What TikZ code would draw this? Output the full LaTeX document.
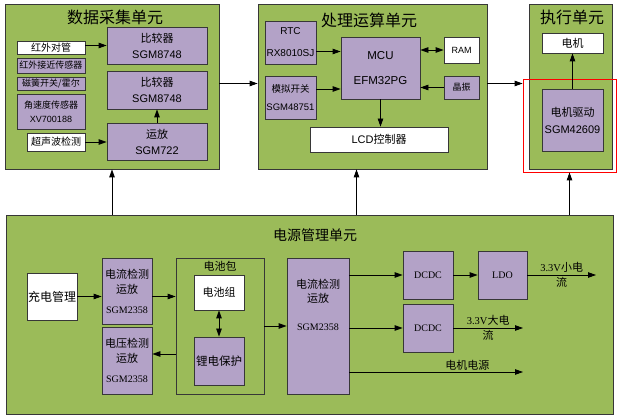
\documentclass[tikz,border=0pt]{standalone}
\usepackage{fontspec}
\setmainfont{Liberation Sans}
\newfontfamily\cjk{Noto Sans CJK SC}
\newfontfamily\song{Liberation Serif}
\usepackage{xcolor}
\usetikzlibrary{arrows.meta,positioning}

\definecolor{grpgreen}{RGB}{155,187,89}
\definecolor{boxpurple}{RGB}{179,162,199}
\definecolor{edgegray}{RGB}{55,55,55}

\begin{document}
\begin{tikzpicture}[
    x=1pt, y=-1pt,
    grp/.style={draw=edgegray, line width=0.8pt, fill=grpgreen, inner sep=0pt},
    pbox/.style={draw=edgegray, line width=0.8pt, fill=boxpurple, align=center, inner sep=0pt},
    wbox/.style={draw=edgegray, line width=0.8pt, fill=white, align=center, inner sep=0pt},
    ttl/.style={font=\cjk\fontsize{16}{18}\selectfont, inner sep=0pt},
    txt/.style={align=center, inner sep=1pt},
    arrow/.style={-{Triangle[length=8pt, width=5.5pt]}, line width=0.8pt},
    dblarrow/.style={{Triangle[length=8pt, width=5.5pt]}-{Triangle[length=8pt, width=5.5pt]}, line width=0.8pt},
]
\useasboundingbox[fill=white] (0,0) rectangle (619,419);

% ---------- Data acquisition (top left) ----------
\node[grp, minimum width=214pt, minimum height=165pt] (daq) at (112,86.5) {};
\node[ttl] (daqttl) at (115,17) {数据采集单元};
\node[wbox, minimum width=68pt, minimum height=13pt, font=\cjk\fontsize{10}{12}\selectfont] (ir) at (51,47.5) {红外对管};
\node[pbox, minimum width=68pt, minimum height=15pt, font=\cjk\fontsize{9}{11}\selectfont] (prox) at (51,65.5) {红外接近传感器};
\node[pbox, minimum width=68pt, minimum height=13pt, font=\cjk\fontsize{9}{11}\selectfont] (reed) at (51,83.5) {磁簧开关/霍尔};
\node[pbox, minimum width=68pt, minimum height=35pt, font=\fontsize{9}{14}\selectfont] (gyro) at (51,111.5) {{\cjk 角速度传感器}\\XV700188};
\node[wbox, minimum width=58pt, minimum height=18pt, font=\cjk\fontsize{10}{12}\selectfont] (sonic) at (56,142) {超声波检测};
\node[pbox, minimum width=100pt, minimum height=37pt, font=\fontsize{11}{16}\selectfont] (cmp1) at (157,45.5) {{\cjk 比较器}\\SGM8748};
\node[pbox, minimum width=100pt, minimum height=38pt, font=\fontsize{11}{16}\selectfont] (cmp2) at (157,90) {{\cjk 比较器}\\SGM8748};
\node[pbox, minimum width=100pt, minimum height=37pt, font=\fontsize{11}{16}\selectfont] (amp) at (157,141.5) {{\cjk 运放}\\SGM722};

% ---------- Processing (top middle) ----------
\node[grp, minimum width=229pt, minimum height=165pt] (proc) at (372.5,86.5) {};
\node[ttl] (procttl) at (369,20) {处理运算单元};
\node[pbox, minimum width=51pt, minimum height=43pt, font=\fontsize{10}{22}\selectfont] (rtc) at (290.5,42.5) {RTC\\RX8010SJ};
\node[pbox, minimum width=51pt, minimum height=43pt, font=\fontsize{9.5}{18}\selectfont] (asw) at (290.5,97.5) {{\cjk 模拟开关}\\SGM48751};
\node[pbox, minimum width=79pt, minimum height=62pt, font=\fontsize{11.5}{25}\selectfont] (mcu) at (380.5,68) {MCU\\EFM32PG};
\node[wbox, minimum width=35pt, minimum height=26pt, font=\fontsize{9}{11}\selectfont] (ram) at (461.5,50) {RAM};
\node[pbox, minimum width=35pt, minimum height=23pt, font=\cjk\fontsize{9}{11}\selectfont] (xtal) at (461.5,87.5) {晶振};
\node[wbox, minimum width=138pt, minimum height=25pt, font=\fontsize{11}{13}\selectfont] (lcd) at (379,139.5) {LCD{\cjk 控制器}};

% ---------- Actuator (top right) ----------
\node[grp, minimum width=83pt, minimum height=165pt] (act) at (570.5,86.5) {};
\node[ttl] (actttl) at (572,17) {执行单元};
\node[wbox, minimum width=61pt, minimum height=20pt, font=\cjk\fontsize{11}{13}\selectfont] (motor) at (572.5,43) {电机};
\node[pbox, minimum width=61pt, minimum height=62pt, font=\fontsize{11}{17}\selectfont] (drv) at (572.5,120) {{\cjk 电机驱动}\\SGM42609};
\node[draw=red, line width=0.8pt, minimum width=93pt, minimum height=93pt, inner sep=0pt] (drvframe) at (569.5,125.5) {};

% ---------- Power management (bottom) ----------
\node[grp, minimum width=607pt, minimum height=199pt] (pwr) at (309.5,314.5) {};
\node[ttl, font=\cjk\fontsize{14}{16}\selectfont] (pwrttl) at (315,235) {电源管理单元};
\node[wbox, minimum width=50pt, minimum height=47pt, font=\cjk\fontsize{12}{14}\selectfont] (chg) at (52,296.5) {充电管理};
\node[pbox, minimum width=50pt, minimum height=66pt, font=\cjk\fontsize{11}{15}\selectfont] (cur1) at (127,291) {电流检测\\运放\\[5pt]{\song\fontsize{10}{12}\selectfont SGM2358}};
\node[pbox, minimum width=50pt, minimum height=67pt, font=\cjk\fontsize{11}{15}\selectfont] (vol) at (127,360.5) {电压检测\\运放\\[5pt]{\song\fontsize{10}{12}\selectfont SGM2358}};
\node[grp, minimum width=88pt, minimum height=136pt] (pack) at (220,326) {};
\node[txt, font=\cjk\fontsize{11}{13}\selectfont, below=2pt of pack.north] (packlbl) {电池包};
\node[wbox, minimum width=50pt, minimum height=35pt, font=\cjk\fontsize{11}{13}\selectfont] (cell) at (219,292.5) {电池组};
\node[pbox, minimum width=50pt, minimum height=48pt, font=\cjk\fontsize{11.5}{13}\selectfont] (prot) at (219,361) {锂电保护};
\node[pbox, minimum width=62pt, minimum height=136pt] (cur2) at (318,326) {};
\node[txt, inner sep=0pt, font=\cjk\fontsize{11}{14}\selectfont, below=21.5pt of cur2.north] (cur2txt) {电流检测\\运放\\[14pt]{\song\fontsize{10}{12}\selectfont SGM2358}};
\node[pbox, minimum width=50pt, minimum height=48pt, font=\song\fontsize{10}{12}\selectfont] (dc1) at (428,275) {DCDC};
\node[pbox, minimum width=49pt, minimum height=48pt, font=\song\fontsize{10}{12}\selectfont] (ldo) at (502.5,275) {LDO};
\node[pbox, minimum width=50pt, minimum height=48pt, font=\song\fontsize{10}{12}\selectfont] (dc2) at (428,328) {DCDC};
\coordinate (out1) at (596,275);
\coordinate (out2) at (523,328);
\coordinate (out3) at (523,372);

% ---------- Arrows: top ----------
\draw[arrow] (cmp1.west -| ir.east) -- (cmp1.west);
\draw[arrow] (sonic.east) -- (sonic.east -| amp.west);
\draw[arrow] (amp) -- (cmp2);
\draw[arrow] ([yshift=-9pt]rtc.east) -- ([yshift=-9pt]rtc.east -| mcu.west);
\draw[arrow] ([yshift=8.5pt]asw.east) -- ([yshift=8.5pt]asw.east -| mcu.west);
\draw[dblarrow] (ram.west -| mcu.east) -- (ram.west);
\draw[arrow] (xtal.west) -- (xtal.west -| mcu.east);
\draw[arrow] (mcu.south) -- (mcu.south |- lcd.north);
\draw[arrow] (drv) -- (motor);
\draw[arrow] ([yshift=3pt]daq.east) -- ([yshift=3pt]daq.east -| proc.west);
\draw[arrow] ([yshift=3pt]proc.east) -- ([yshift=3pt]proc.east -| drvframe.west);

% power feeds the three units
\draw[arrow] (daq.south |- pwr.north) -- (daq.south);
\draw[arrow] ([xshift=-16pt]proc.south |- pwr.north) -- ([xshift=-16pt]proc.south);
\draw[arrow] (drvframe.south |- pwr.north) -- (drvframe.south);

% ---------- Arrows: power ----------
\draw[arrow] (chg.east) -- (chg.east -| cur1.west);
\draw[arrow] (chg.east -| cur1.east) -- (chg.east -| pack.west);
\draw[dblarrow] (cell) -- (prot);
\draw[arrow] ([yshift=6.5pt]vol.east -| pack.west) -- ([yshift=6.5pt]vol.east);
\draw[arrow] (pack.east) -- (pack.east -| cur2.west);
\draw[arrow] (dc1.west -| cur2.east) -- (dc1.west);
\draw[arrow] (dc1) -- (ldo);
\draw[arrow] (ldo) -- (out1)
    node[midway, txt, font=\cjk\fontsize{11}{15}\selectfont] {{\song\fontsize{10.5}{12}\selectfont 3.3V}小电\\流};
\draw[arrow] (dc2.west -| cur2.east) -- (dc2.west);
\draw[arrow] (dc2) -- (out2)
    node[midway, txt, font=\cjk\fontsize{11}{15}\selectfont] {{\song\fontsize{10.5}{12}\selectfont 3.3V}大电\\流};
\draw[arrow] (out3 -| cur2.east) -- (out3)
    node[pos=0.68, above, txt, font=\cjk\fontsize{11}{13}\selectfont] {电机电源};

\end{tikzpicture}
\end{document}
